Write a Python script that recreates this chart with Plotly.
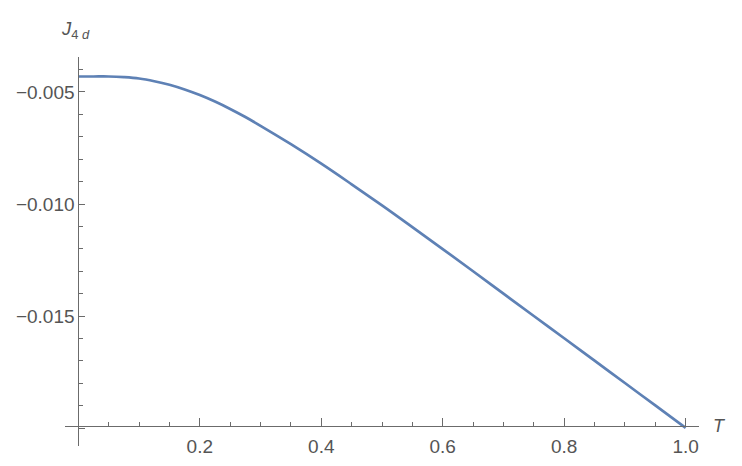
import plotly.graph_objects as go

# --- данные ---
T = [0.0, 0.025, 0.05, 0.075, 0.1, 0.125, 0.15, 0.175, 0.2, 0.225, 0.25, 0.275, 0.3,
     0.35, 0.4, 0.45, 0.5, 0.55, 0.6, 0.65, 0.7, 0.75, 0.8, 0.85, 0.9, 0.95, 1.0]
J4d = [-0.00431, -0.00431, -0.00431, -0.00434, -0.00440, -0.00452, -0.00468, -0.00489,
       -0.00514, -0.00543, -0.00576, -0.00612, -0.00651,
       -0.00733, -0.00820, -0.00912, -0.01006, -0.01103, -0.01201, -0.01300, -0.01400,
       -0.01500, -0.01599, -0.01699, -0.01799, -0.01899, -0.01999]

x_tickvals = [0.2, 0.4, 0.6, 0.8, 1.0]
x_ticktext = ["0.2", "0.4", "0.6", "0.8", "1.0"]
y_tickvals = [-0.020, -0.015, -0.010, -0.005]
y_ticktext = ["", "\u22120.015", "\u22120.010", "\u22120.005"]

X_RANGE = [-0.022, 1.022]
Y_RANGE = [-0.0208, -0.00344]
X_AXIS_AT = -0.01992  # где ось T пересекает ось J

AXIS_COLOR = "#6b6b6b"
TEXT_COLOR = "#555555"
FONT = "Liberation Sans, Arial, sans-serif"

fig = go.Figure()
fig.add_trace(go.Scatter(
    x=T, y=J4d, mode="lines", line=dict(color="#5E81B5", width=2.7, shape="spline"),
    showlegend=False, hoverinfo="skip"
))

x_pos = (X_AXIS_AT - Y_RANGE[0]) / (Y_RANGE[1] - Y_RANGE[0])
y_pos = (0 - X_RANGE[0]) / (X_RANGE[1] - X_RANGE[0])

# страница имеет отступ body 8px, поэтому слева/сверху поля меньше
fig.update_layout(
    width=742, height=466,
    margin=dict(l=57, r=51, t=49, b=28),
    plot_bgcolor="white", paper_bgcolor="white",
    font=dict(family=FONT, size=19, color=TEXT_COLOR),
    xaxis=dict(
        range=X_RANGE, anchor="free", position=x_pos, showgrid=False, zeroline=False,
        showline=True, linecolor=AXIS_COLOR, linewidth=1,
        tickmode="array", tickvals=x_tickvals, ticktext=x_ticktext,
        ticks="inside", ticklen=8, tickwidth=1, tickcolor=AXIS_COLOR,
        minor=dict(ticks="inside", ticklen=4, tickwidth=1, tickcolor=AXIS_COLOR,
                   tick0=0, dtick=0.05, showgrid=False),
        automargin=False, ticklabelstandoff=3,
    ),
    yaxis=dict(
        range=Y_RANGE, anchor="free", position=y_pos, showgrid=False, zeroline=False,
        showline=True, linecolor=AXIS_COLOR, linewidth=1,
        tickmode="array", tickvals=y_tickvals, ticktext=y_ticktext,
        ticks="inside", ticklen=6, tickwidth=1, tickcolor=AXIS_COLOR,
        minor=dict(ticks="inside", ticklen=3.5, tickwidth=1, tickcolor=AXIS_COLOR,
                   tick0=0, dtick=0.001, showgrid=False),
        automargin=False,
    ),
)

# подписи осей
fig.add_annotation(
    text="<i>J</i><sub>4 <i>d</i></sub>", xref="paper", yref="paper",
    x=-0.009, y=1.0, xanchor="left", yanchor="bottom", yshift=13,
    showarrow=False, font=dict(family=FONT, size=18.5, color=TEXT_COLOR)
)
fig.add_annotation(
    text="<i>T</i>", xref="paper", yref="y",
    x=1.0, y=X_AXIS_AT, xanchor="left", yanchor="middle", xshift=12,
    showarrow=False, font=dict(family=FONT, size=18, color=TEXT_COLOR)
)

fig.write_html("out.html")
